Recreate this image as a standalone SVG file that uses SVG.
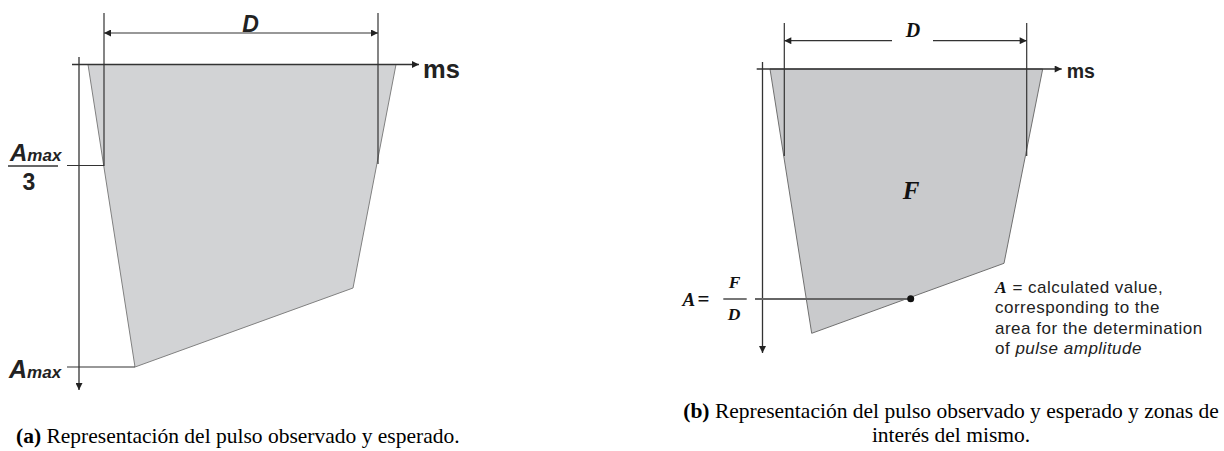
<svg xmlns="http://www.w3.org/2000/svg" width="1224" height="451" viewBox="0 0 1224 451">
<defs>
<marker id="arr" viewBox="0 0 10 10" refX="10" refY="5" markerWidth="9" markerHeight="7" markerUnits="userSpaceOnUse" orient="auto-start-reverse">
<path d="M0,0 L10,5 L0,10 z" fill="#222"/>
</marker>
<style>
.ln{stroke:#333;stroke-width:1.2;fill:none}
.ax{stroke:#333;stroke-width:1.3;fill:none}
.sans{font-family:"Liberation Sans",Arial,sans-serif;fill:#222}
.serif{font-family:"Liberation Serif","Times New Roman",serif;fill:#111}
.bi{font-weight:bold;font-style:italic}
.cap{font-family:"Liberation Serif","Times New Roman",serif;font-size:21.5px;fill:#000}
</style>
</defs>
<rect width="1224" height="451" fill="#fff"/>

<!-- Panel (a) -->
<g id="pulse-a">
<polygon points="88,64.5 396,64.5 353,288 135,367" fill="#d2d3d5" stroke="#808080" stroke-width="1"/>
</g>
<g id="connectors-a">
<path class="ln" d="M104,13 V166"/>
<path class="ln" d="M378,13 V164"/>
<path class="ln" d="M104,33 H378" marker-start="url(#arr)" marker-end="url(#arr)"/>
<path class="ax" d="M72,64.5 H419" marker-end="url(#arr)"/>
<path class="ax" d="M79,57 V390" marker-end="url(#arr)"/>
<path class="ln" d="M67,165.5 H104"/>
<path class="ln" d="M67,367 H135"/>
</g>
<g id="labels-a">
<text class="sans bi" x="250.5" y="31.5" font-size="23" text-anchor="middle">D</text>
<text class="sans" x="423" y="78" font-size="25.5" font-weight="bold">ms</text>
<text class="sans bi" x="10" y="161"><tspan font-size="24">A</tspan><tspan font-size="17">max</tspan></text>
<path d="M8,166 H58" stroke="#333" stroke-width="1.5"/>
<text class="sans" x="29" y="190" font-size="23" font-weight="bold" text-anchor="middle">3</text>
<text class="sans bi" x="9" y="377.5"><tspan font-size="25">A</tspan><tspan font-size="17">max</tspan></text>
</g>

<!-- Panel (b) -->
<g id="pulse-b">
<polygon points="770,69 1042.7,69 1004,263.3 811.7,333.3" fill="#c9cacc" stroke="#707070" stroke-width="1"/>
</g>
<g id="connectors-b">
<path class="ln" d="M784.3,23 V156"/>
<path class="ln" d="M1026.7,23 V156"/>
<path class="ln" d="M784.3,40.7 H892" marker-start="url(#arr)"/>
<path class="ln" d="M933,40.7 H1026.7" marker-end="url(#arr)"/>
<path class="ax" d="M756.7,69 H1061.7" marker-end="url(#arr)"/>
<path class="ax" d="M762.5,62 V353" marker-end="url(#arr)"/>
<path d="M755,299 H910.7" stroke="#666" stroke-width="2" fill="none"/>
<circle cx="910.7" cy="298.7" r="3.5" fill="#111"/>
</g>
<g id="labels-b">
<text class="serif bi" x="913" y="37" font-size="20" text-anchor="middle">D</text>
<text class="sans" x="1066.7" y="78" font-size="19.5" font-weight="bold">ms</text>
<text class="serif bi" x="911" y="199" font-size="25" text-anchor="middle">F</text>
<text class="serif bi" x="682.5" y="305.5" font-size="19">A</text>
<text class="serif" x="697.5" y="305.5" font-size="21" font-weight="bold">=</text>
<text class="serif bi" x="734.5" y="288.3" font-size="17.5" text-anchor="middle">F</text>
<path d="M723.3,299 H746.7" stroke="#777" stroke-width="2"/>
<text class="serif bi" x="734" y="319.5" font-size="17.5" text-anchor="middle">D</text>
<g class="sans" font-size="17" letter-spacing="0.5" fill="#333">
<text x="995" y="292.5"><tspan class="serif bi" font-size="17.5">A</tspan> = calculated value,</text>
<text x="995" y="313">corresponding to the</text>
<text x="995" y="333.5">area for the determination</text>
<text x="995" y="354">of <tspan font-style="italic">pulse amplitude</tspan></text>
</g>
</g>

<!-- Captions -->
<g id="captions">
<text class="cap" x="16" y="443" font-size="22"><tspan font-weight="bold">(a)</tspan> Representación del pulso observado y esperado.</text>
<text class="cap" x="951" y="418" text-anchor="middle"><tspan font-weight="bold">(b)</tspan> Representación del pulso observado y esperado y zonas de</text>
<text class="cap" x="951" y="442" text-anchor="middle">interés del mismo.</text>
</g>
</svg>
